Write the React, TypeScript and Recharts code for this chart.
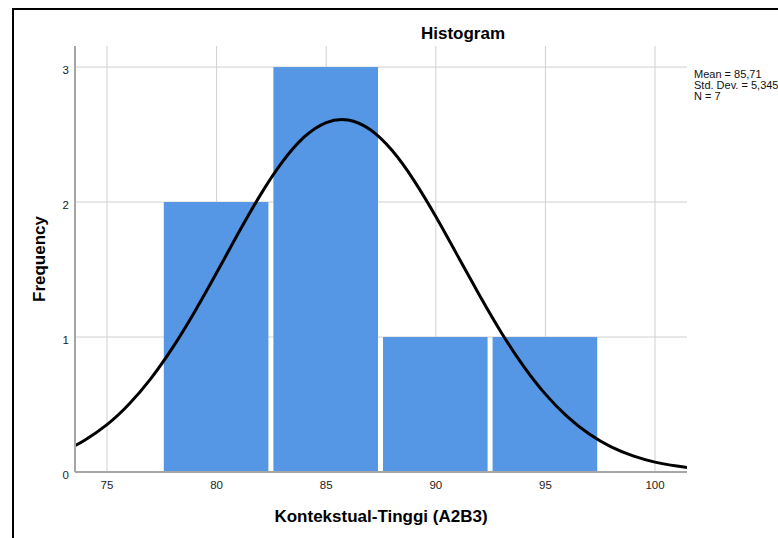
import React from 'react';
import { ComposedChart, Line, XAxis, YAxis, CartesianGrid, ReferenceArea } from 'recharts';

const binStarts = [77.5, 82.5, 87.5, 92.5];
const binEnds = [82.5, 87.5, 92.5, 97.5];
const counts = [2, 3, 1, 1];

const curveX = [73.54, 74, 75, 76, 77, 78, 79, 80, 81, 82, 83, 84, 85, 86, 87, 88, 89, 90, 91, 92, 93, 94, 95, 96, 97, 98, 99, 100, 101, 101.46];
const curveY = [0.196, 0.237, 0.351, 0.502, 0.692, 0.923, 1.188, 1.476, 1.772, 2.053, 2.297, 2.482, 2.589, 2.608, 2.537, 2.383, 2.161, 1.893, 1.601, 1.307, 1.03, 0.785, 0.577, 0.41, 0.281, 0.186, 0.119, 0.073, 0.044, 0.034];

const xTicks = [75, 80, 85, 90, 95, 100];
const yTicks = [0, 1, 2, 3];
const gridY = [1, 2, 3];
const xDomain = [73.54, 101.46];
const yDomain = [0, 3.156];

const title = 'Histogram';
const xLabel = 'Kontekstual-Tinggi (A2B3)';
const yLabel = 'Frequency';
const stats = ['Mean = 85,71', 'Std. Dev. = 5,345', 'N = 7'];

const curveData = curveX.map((x, i) => ({ x, y: curveY[i] }));

const FONT = '"Liberation Sans", Arial, Helvetica, sans-serif';
const BAR_FILL = '#5596e5';

const BarShape = (props: any) => {
  const { x, y, width, height } = props;
  return <rect x={x + 2} y={y} width={Math.max(0, width - 5)} height={height} fill={BAR_FILL} />;
};

export default function App() {
  return (
    <div style={{ position: 'fixed', left: 0, top: 0, width: 778, height: 538, overflow: 'hidden', background: '#fff' }}>
      <ComposedChart width={778} height={538} data={curveData} margin={{ top: 46, right: 91, bottom: 0, left: 0 }}>
        <CartesianGrid
          stroke="#d0d0d0"
          strokeWidth={1}
          verticalValues={xTicks}
          horizontalValues={gridY}
        />
        <XAxis
          dataKey="x"
          type="number"
          domain={xDomain}
          ticks={xTicks}
          allowDataOverflow
          height={66}
          tickLine={false}
          tickSize={0}
          tickMargin={9}
          axisLine={{ stroke: '#a6a6a6', strokeWidth: 2 }}
          tick={{ fontSize: 11.5, fill: '#222', fontFamily: FONT }}
          label={{ value: xLabel, position: 'insideBottom', offset: 16, style: { fontSize: 17, fontWeight: 'bold', fill: '#000', fontFamily: FONT } }}
        />
        <YAxis
          type="number"
          domain={yDomain}
          ticks={yTicks}
          allowDataOverflow
          width={75}
          tickLine={false}
          tickSize={0}
          tickMargin={6}
          axisLine={{ stroke: '#a6a6a6', strokeWidth: 2 }}
          tick={{ fontSize: 11.5, fill: '#222', fontFamily: FONT, dy: 2.5 }}
          label={{ value: yLabel, angle: -90, position: 'insideLeft', offset: 39, style: { fontSize: 17, fontWeight: 'bold', fill: '#000', fontFamily: FONT, textAnchor: 'middle' } }}
        />
        {counts.map((c, i) => (
          <ReferenceArea
            key={i}
            x1={binStarts[i]}
            x2={binEnds[i]}
            y1={0}
            y2={c}
            shape={BarShape}
            isAnimationActive={false}
          />
        ))}
        <Line
          dataKey="y"
          type="natural"
          stroke="#000"
          strokeWidth={3}
          dot={false}
          activeDot={false}
          isAnimationActive={false}
        />
      </ComposedChart>
      <svg width={778} height={538} style={{ position: 'absolute', left: 0, top: 0, pointerEvents: 'none' }}>
        <rect x={13} y={9} width={900} height={900} fill="none" stroke="#000" strokeWidth={2} />
        <text x={463} y={39} textAnchor="middle" fontSize={17} fontWeight="bold" fontFamily={FONT} fill="#000">
          {title}
        </text>
        {stats.map((s, i) => (
          <text key={i} x={694} y={78 + i * 11} fontSize={11} fontFamily={FONT} fill="#111">
            {s}
          </text>
        ))}
      </svg>
    </div>
  );
}
